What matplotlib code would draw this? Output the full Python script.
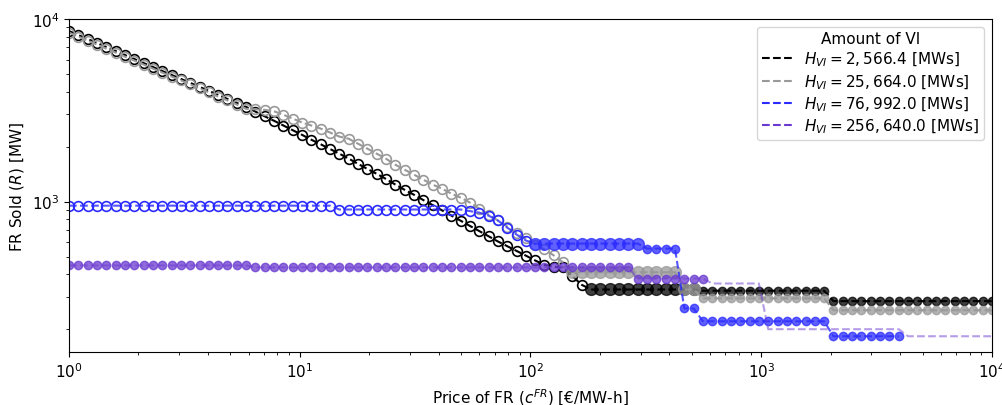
import numpy as np
import matplotlib.pyplot as plt
from matplotlib.lines import Line2D

plt.rcParams["font.size"] = 11

# price sweep for FR (100 points, log spaced)
price = np.logspace(0, 4, 100)

# FR sold [MW] for each amount of virtual inertia
r_h1 = [8590, 8170, 7770, 7390, 7020, 6680, 6350, 6040, 5740, 5460,
        5190, 4940, 4700, 4470, 4250, 4040, 3840, 3650, 3470, 3300,
        3110, 2930, 2770, 2610, 2460, 2320, 2180, 2060, 1940, 1830, 1720,
        1610, 1510, 1420, 1330, 1240, 1160, 1090, 1020, 957, 896, 839,
        786, 736, 690, 646, 605,
        570, 537, 506, 476, 450, 440, 436, 390, 350,
        330, 330, 330, 330, 330, 330, 330, 330, 330, 330, 330, 330,
        325, 325, 325, 325, 325, 325, 325, 325, 325, 325, 325, 325, 325, 325,
        285, 285, 285, 285, 285, 285, 285, 285, 285, 285, 285, 285, 285, 285,
        285, 285, 285, 285]

r_h2 = [8420, 8010, 7610, 7240, 6880, 6550, 6220, 5920, 5630, 5350,
        5090, 4840, 4610, 4380, 4170, 3960, 3760, 3580, 3400,
        3220, 3200, 3180, 3120, 2990, 2850, 2710, 2610, 2510, 2390, 2270, 2210,
        2075, 1950, 1830, 1718, 1592, 1495, 1405, 1319, 1239, 1178, 1106,
        1052, 988, 916, 849, 788, 730, 677, 628, 582, 547, 507, 464,
        410, 410, 410, 410, 410, 410, 410, 410, 410, 410, 410, 410,
        330, 330,
        295, 295, 295, 295, 295, 295, 295, 295, 295, 295, 295, 295, 295, 295,
        254, 254, 254, 254, 254, 254, 254, 254, 254, 254, 254, 254, 254, 254,
        254, 254, 254, 254]

r_h3 = [950] * 29 + [905] * 14 + [887, 870, 838, 788, 721, 660, 612] \
    + [589] * 12 + [553] * 4 + [260] * 2 + [221] * 14 + [183] * 8 \
    + [np.nan] * 10

r_h4 = [447] * 20 + [436] * 41 + [379] * 8 + [356] * 6 + [200] * 15 + [183] * 10

labels = [r"$H_{VI} = 2,566.4$ [MWs]",
          r"$H_{VI} = 25,664.0$ [MWs]",
          r"$H_{VI} = 76,992.0$ [MWs]",
          r"$H_{VI} = 256,640.0$ [MWs]"]
colors = ["black", "#999999", "#2b2bff", "#6a3ad0"]
line_alpha = [1.0, 1.0, 0.8, 0.5]

# index ranges: (open markers), (large filled), (small filled)
open_idx = [(0, 56), (0, 54), (0, 50), None]
big_idx = [(56, 68), (54, 68), (50, 62), None]
small_idx = [(68, 100), (68, 100), (62, 90), (0, 69)]

fig = plt.figure(figsize=(10.03, 4.06), dpi=100)
ax = fig.add_axes([0.0688, 0.1305, 0.9202, 0.8202])

for y, c, la, op, bg, sm in zip([r_h1, r_h2, r_h3, r_h4], colors, line_alpha,
                                open_idx, big_idx, small_idx):
    y = np.asarray(y, dtype=float)
    ax.plot(price, y, "--", color=c, alpha=la, lw=1.5)
    if op:
        s = slice(*op)
        ax.plot(price[s], y[s], "o", ls="none", mfc="none", mec=c, ms=7, mew=1.2)
    if bg:
        s = slice(*bg)
        ax.plot(price[s], y[s], "o", ls="none", color=c, alpha=0.75, ms=8.5)
    if sm:
        s = slice(*sm)
        ax.plot(price[s], y[s], "o", ls="none", color=c, alpha=0.75, ms=6)

ax.set_xscale("log")
ax.set_yscale("log")
ax.set_xlim(1, 1e4)
ax.set_ylim(150, 1e4)
ax.set_xlabel(r"Price of FR ($c^{FR}$) [€/MW-h]")
ax.set_ylabel(r"FR Sold ($R$) [MW]")

handles = [Line2D([], [], ls="--", color=c, lw=1.5) for c in colors]
ax.legend(handles, labels, title="Amount of VI", loc="upper right",
          labelspacing=0.25, borderpad=0.3)

fig.savefig("out.png", dpi=100)
